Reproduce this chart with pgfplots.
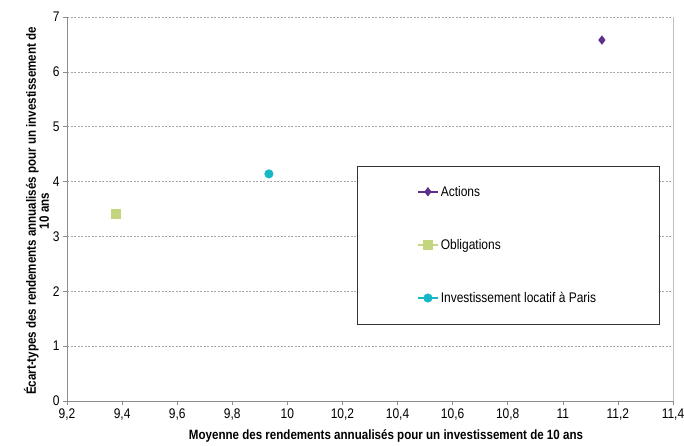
\documentclass[border=0pt]{standalone}
\usepackage{pgfplots}
\pgfplotsset{compat=1.18}
\usepackage{fontspec}
\setmainfont{Liberation Sans}[FakeStretch=0.86]
\definecolor{cAct}{HTML}{5F2F8C}
\definecolor{cObl}{HTML}{C3D57F}
\definecolor{cInv}{HTML}{17B8C6}
\definecolor{cGrid}{HTML}{A6A6A6}
\definecolor{cAxis}{HTML}{8C8C8C}
\begin{document}
\begin{tikzpicture}
\begin{axis}[
  scale only axis,
  width=606bp, height=384bp,
  xmin=9.2, xmax=11.4, ymin=0, ymax=7,
  xtick={9.2,9.4,...,11.41}, ytick={0,1,...,7},
  /pgf/number format/.cd, use comma, fixed, precision=1,
  /pgfplots/.cd,
  /pgf/number format/assume math mode=true,
  tick label style={font=\fontsize{14}{16}\selectfont},
  tick align=outside, tick pos=left,
  major tick length=4bp,
  tick style={cAxis, line width=0.6pt},
  axis x line*=bottom, axis y line*=left,
  axis line style={cAxis, line width=0.8pt, -},
  ymajorgrids, major grid style={cGrid, dashed, line width=0.5pt, dash pattern=on 2bp off 1.5bp},
  xlabel={Moyenne des rendements annualisés pour un investissement de 10 ans},
  ylabel={Écart-types des rendements annualisés pour un investissement de\\10 ans},
  xlabel style={font=\fontsize{13.5}{15}\selectfont\bfseries, yshift=-3bp, xshift=16bp},
  ylabel style={font=\fontsize{13.5}{13}\selectfont\bfseries, align=center, yshift=-3bp, xshift=-2bp},
  legend style={at={(axis cs:10.47,3.96)}, anchor=north west, draw=none, fill=none,
    font=\fontsize{14}{16}\selectfont, row sep=37.5bp, inner sep=0pt},
  legend cell align=left,
  legend image code/.code={\draw[#1, line width=1.8bp, mark repeat=2, mark phase=2] plot coordinates {(0bp,0bp) (10bp,0bp) (20bp,0bp)};},
  clip=false,
]
\draw[lightgray, line width=0.6pt] (axis cs:11.4,0) -- (axis cs:11.4,7);
\draw[black!80, line width=0.8pt, fill=white] (axis cs:10.256,1.40) rectangle (axis cs:11.349,4.28);
\addplot[cAct, line width=1.2pt, mark=diamond*, mark size=4.4bp, mark options={solid, fill=cAct, draw=cAct, line width=0.4pt}] coordinates {(11.142,6.58)};
\addlegendentry{Actions}
\addplot[cObl, line width=1.2pt, mark=square*, mark size=4.6bp, mark options={solid, fill=cObl, draw=cObl, line width=0.4pt}] coordinates {(9.378,3.41)};
\addlegendentry{Obligations}
\addplot[cInv, line width=1.2pt, mark=*, mark size=4.3bp, mark options={solid, fill=cInv, draw=cInv, line width=0.4pt}] coordinates {(9.933,4.14)};
\addlegendentry{Investissement locatif à Paris}
\coordinate (O) at (rel axis cs:0,0);
\end{axis}
\pgfresetboundingbox
\path[use as bounding box] (O) ++(-67bp,-45bp) rectangle ++(684bp,446bp);
\end{tikzpicture}
\end{document}
